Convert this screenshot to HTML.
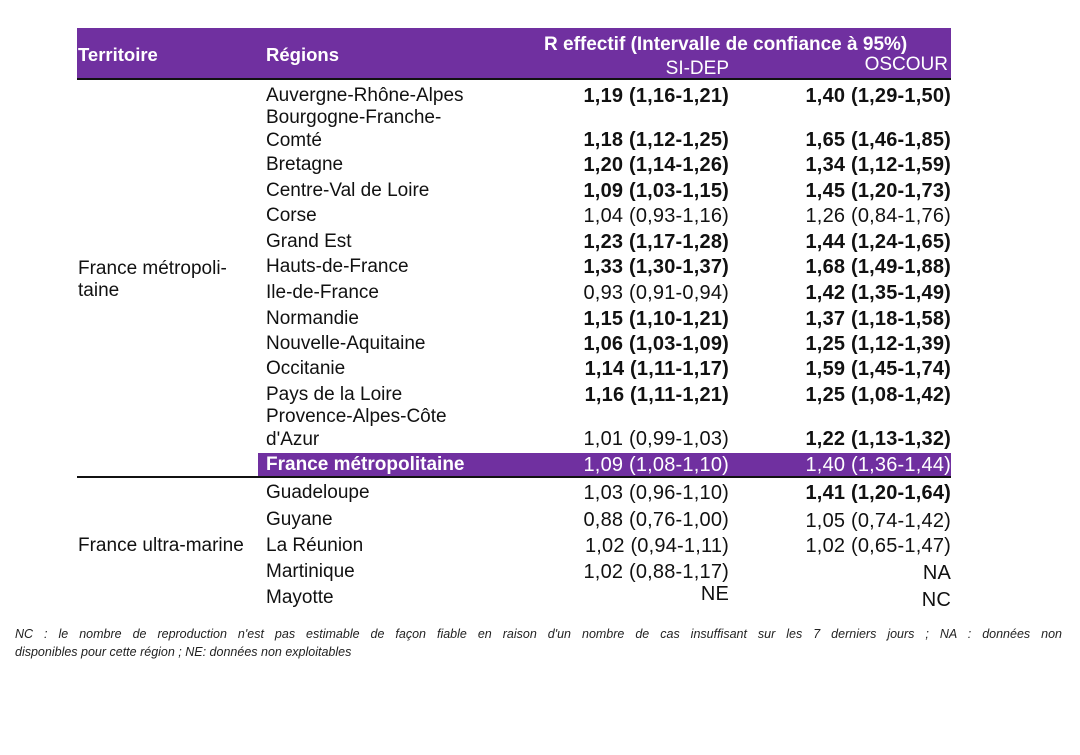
<!DOCTYPE html>
<html><head><meta charset="utf-8"><style>
body{margin:0;width:1080px;height:755px;background:#fff;position:relative;overflow:hidden;font-family:"Liberation Sans",Arial,sans-serif;color:#111}
.t{position:absolute;font-size:19px;line-height:20px;white-space:nowrap}
.v{position:absolute;font-size:20px;letter-spacing:0.2px;line-height:20px;white-space:nowrap;text-align:right}
.s{right:351px}.o{right:129px}
.b{font-weight:bold}
.w{color:#fff}
.fn{position:absolute;left:15px;width:1047px;font-size:12.5px;line-height:18px;font-style:italic;color:#222;white-space:nowrap}
</style></head><body>
<div style="position:absolute;left:77px;top:28px;width:874px;height:50px;background:#7030a0"></div>
<div style="position:absolute;left:77px;top:78px;width:874px;height:2px;background:#111"></div>
<div class="t b w" style="left:78px;top:45px;font-size:18.5px">Territoire</div>
<div class="t b w" style="left:266px;top:45px;font-size:18.5px">Régions</div>
<div class="t b w" style="left:544px;top:35px">R effectif (Intervalle de confiance à 95%)</div>
<div class="t w" style="right:351px;top:59px">SI-DEP</div>
<div class="t w" style="right:132px;top:55px">OSCOUR</div>

<div class="t" style="left:78px;top:259px">France métropoli-</div>
<div class="t" style="left:78px;top:281px">taine</div>
<div class="t" style="left:78px;top:536px">France ultra-marine</div>

<div class="t" style="left:266px;top:86px">Auvergne-Rhône-Alpes</div>
<div class="v s b" style="top:86px">1,19 (1,16-1,21)</div><div class="v o b" style="top:86px">1,40 (1,29-1,50)</div>
<div class="t" style="left:266px;top:108px">Bourgogne-Franche-</div>
<div class="t" style="left:266px;top:131px">Comté</div>
<div class="v s b" style="top:130px">1,18 (1,12-1,25)</div><div class="v o b" style="top:130px">1,65 (1,46-1,85)</div>
<div class="t" style="left:266px;top:155px">Bretagne</div>
<div class="v s b" style="top:155px">1,20 (1,14-1,26)</div><div class="v o b" style="top:155px">1,34 (1,12-1,59)</div>
<div class="t" style="left:266px;top:181px">Centre-Val de Loire</div>
<div class="v s b" style="top:181px">1,09 (1,03-1,15)</div><div class="v o b" style="top:181px">1,45 (1,20-1,73)</div>
<div class="t" style="left:266px;top:206px">Corse</div>
<div class="v s" style="top:206px">1,04 (0,93-1,16)</div><div class="v o" style="top:206px">1,26 (0,84-1,76)</div>
<div class="t" style="left:266px;top:232px">Grand Est</div>
<div class="v s b" style="top:232px">1,23 (1,17-1,28)</div><div class="v o b" style="top:232px">1,44 (1,24-1,65)</div>
<div class="t" style="left:266px;top:257px">Hauts-de-France</div>
<div class="v s b" style="top:257px">1,33 (1,30-1,37)</div><div class="v o b" style="top:257px">1,68 (1,49-1,88)</div>
<div class="t" style="left:266px;top:283px">Ile-de-France</div>
<div class="v s" style="top:283px">0,93 (0,91-0,94)</div><div class="v o b" style="top:283px">1,42 (1,35-1,49)</div>
<div class="t" style="left:266px;top:309px">Normandie</div>
<div class="v s b" style="top:309px">1,15 (1,10-1,21)</div><div class="v o b" style="top:309px">1,37 (1,18-1,58)</div>
<div class="t" style="left:266px;top:334px">Nouvelle-Aquitaine</div>
<div class="v s b" style="top:334px">1,06 (1,03-1,09)</div><div class="v o b" style="top:334px">1,25 (1,12-1,39)</div>
<div class="t" style="left:266px;top:359px">Occitanie</div>
<div class="v s b" style="top:359px">1,14 (1,11-1,17)</div><div class="v o b" style="top:359px">1,59 (1,45-1,74)</div>
<div class="t" style="left:266px;top:385px">Pays de la Loire</div>
<div class="v s b" style="top:385px">1,16 (1,11-1,21)</div><div class="v o b" style="top:385px">1,25 (1,08-1,42)</div>
<div class="t" style="left:266px;top:407px">Provence-Alpes-Côte</div>
<div class="t" style="left:266px;top:430px">d'Azur</div>
<div class="v s" style="top:429px">1,01 (0,99-1,03)</div><div class="v o b" style="top:429px">1,22 (1,13-1,32)</div>

<div style="position:absolute;left:258px;top:453px;width:693px;height:23px;background:#7030a0"></div>
<div style="position:absolute;left:77px;top:476px;width:874px;height:2px;background:#111"></div>
<div class="t b w" style="left:266px;top:455px">France métropolitaine</div>
<div class="v s w" style="top:455px">1,09 (1,08-1,10)</div><div class="v o w" style="top:455px">1,40 (1,36-1,44)</div>

<div class="t" style="left:266px;top:483px">Guadeloupe</div>
<div class="v s" style="top:483px">1,03 (0,96-1,10)</div><div class="v o b" style="top:483px">1,41 (1,20-1,64)</div>
<div class="t" style="left:266px;top:510px">Guyane</div>
<div class="v s" style="top:510px">0,88 (0,76-1,00)</div><div class="v o" style="top:511px">1,05 (0,74-1,42)</div>
<div class="t" style="left:266px;top:536px">La Réunion</div>
<div class="v s" style="top:536px">1,02 (0,94-1,11)</div><div class="v o" style="top:536px">1,02 (0,65-1,47)</div>
<div class="t" style="left:266px;top:562px">Martinique</div>
<div class="v s" style="top:562px">1,02 (0,88-1,17)</div><div class="v o" style="top:563px">NA</div>
<div class="t" style="left:266px;top:588px">Mayotte</div>
<div class="v s" style="top:584px">NE</div><div class="v o" style="top:590px">NC</div>

<div class="fn" style="top:625px;text-align:justify;text-align-last:justify;white-space:normal">NC : le nombre de reproduction n'est pas estimable de façon fiable en raison d'un nombre de cas insuffisant sur les 7 derniers jours ; NA : données non</div>
<div class="fn" style="top:643px">disponibles pour cette région ; NE: données non exploitables</div>
</body></html>
